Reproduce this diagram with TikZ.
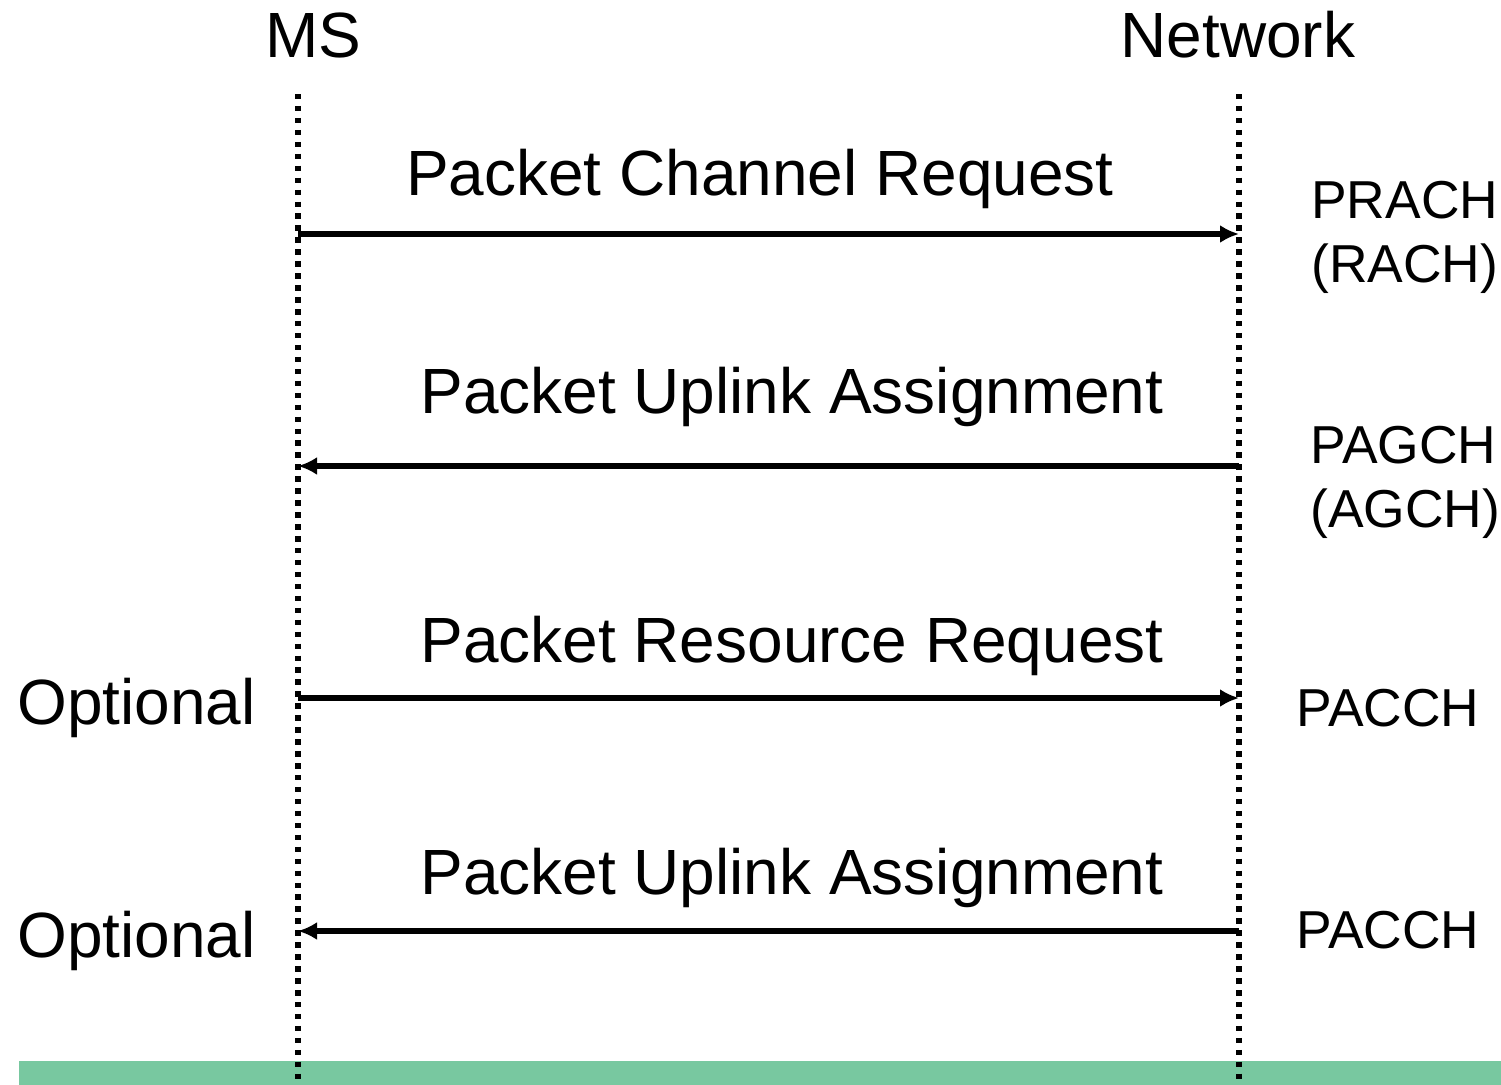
\documentclass[tikz,border=0pt]{standalone}
\usepackage{fontspec}
\setmainfont{Liberation Sans}
\usetikzlibrary{arrows.meta}
\definecolor{BarGreen}{HTML}{78C8A0}

\tikzset{
  lifeline/.style={line width=3.1pt,dash pattern=on 3.1pt off 3.7pt},
  msg/.style={line width=3.1pt,-{Latex[length=0.38cm,width=0.36cm]}},
  msglabel/.style={anchor=base,inner sep=0pt,font=\fontsize{36.4}{40}\selectfont},
  optlabel/.style={anchor=base west,inner sep=0pt,font=\fontsize{36.4}{40}\selectfont},
  chlabel/.style={anchor=base west,inner sep=0pt,font=\fontsize{30.4}{36}\selectfont},
}

\begin{document}
\begin{tikzpicture}[x=0.02cm,y=-0.02cm]
  \useasboundingbox (0,0) rectangle (1501,1085);
  \fill[BarGreen] (19,1061) rectangle (1501,1085);

  % entities and lifelines
  \node[msglabel] (ms) at (313,57) {MS};
  \node[msglabel] (net) at (1238,57) {Network};
  \coordinate (msTop) at (298,94);
  \coordinate (msBot) at (298,1085);
  \coordinate (netTop) at (1239,94);
  \coordinate (netBot) at (1239,1085);
  \draw[lifeline] (msTop) -- (msBot);
  \draw[lifeline] (netTop) -- (netBot);

  % message end points
  \coordinate (ms1) at (298,234);  \coordinate (net1) at (1239,234);
  \coordinate (ms2) at (298,466);  \coordinate (net2) at (1239,466);
  \coordinate (ms3) at (298,698);  \coordinate (net3) at (1239,698);
  \coordinate (ms4) at (298,931);  \coordinate (net4) at (1239,931);

  \draw[msg] (ms1) -- (net1);
  \draw[msg] (net2) -- (ms2);
  \draw[msg] (ms3) -- (net3);
  \draw[msg] (net4) -- (ms4);

  \node[msglabel] (chReq) at (760,195) {Packet Channel Request};
  \node[msglabel] (upAss) at (792,413) {Packet Uplink Assignment};
  \node[msglabel] (resReq) at (792,662) {Packet Resource Request};
  \node[msglabel] (upAssB) at (792,894) {Packet Uplink Assignment};

  % channels
  \node[chlabel] (prach) at (1311,218) {PRACH};
  \node[chlabel] (rach) at (1311,282) {(RACH)};
  \node[chlabel] (pagch) at (1310,463) {PAGCH};
  \node[chlabel] (agch) at (1310,527) {(AGCH)};
  \node[chlabel] (pacchA) at (1296,726) {PACCH};
  \node[chlabel] (pacchB) at (1296,948) {PACCH};

  \node[optlabel] (optA) at (17,724) {Optional};
  \node[optlabel] (optB) at (17,957) {Optional};
\end{tikzpicture}
\end{document}
